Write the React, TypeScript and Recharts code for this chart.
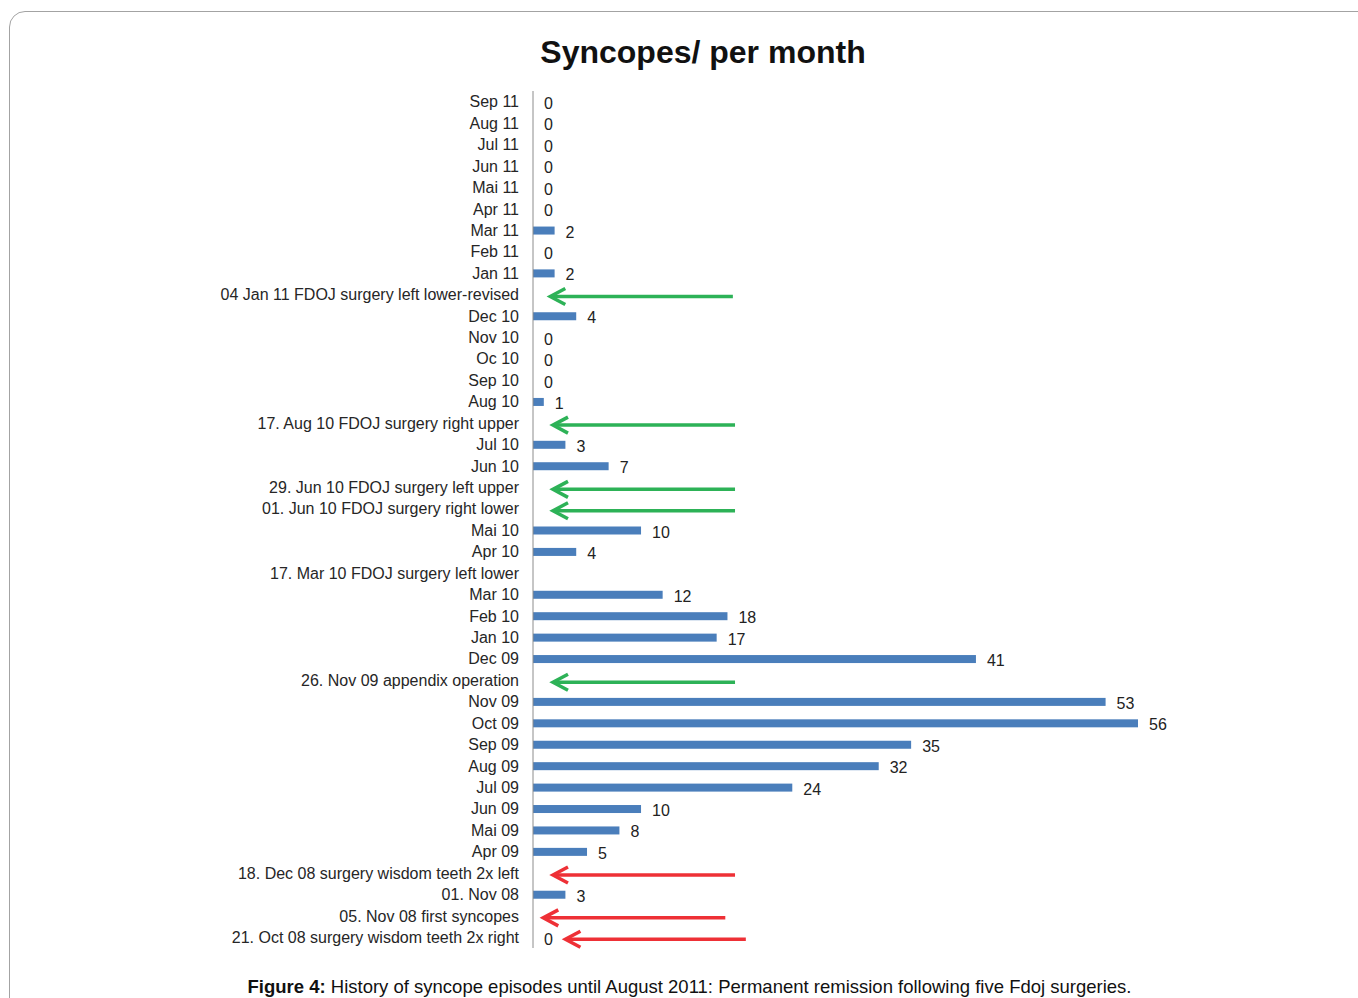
import { BarChart, Bar, XAxis, YAxis, LabelList, ReferenceLine } from 'recharts'

// rows top to bottom, months and event markers mixed as in the original
const rows = [
  'Sep 11', 'Aug 11', 'Jul 11', 'Jun 11', 'Mai 11', 'Apr 11', 'Mar 11', 'Feb 11', 'Jan 11',
  '04 Jan 11 FDOJ surgery left lower-revised',
  'Dec 10', 'Nov 10', 'Oc 10', 'Sep 10', 'Aug 10',
  '17. Aug 10 FDOJ surgery right upper',
  'Jul 10', 'Jun 10',
  '29. Jun 10 FDOJ surgery left upper',
  '01. Jun 10 FDOJ surgery right lower',
  'Mai 10', 'Apr 10',
  '17. Mar 10 FDOJ surgery left lower',
  'Mar 10', 'Feb 10', 'Jan 10', 'Dec 09',
  '26. Nov 09 appendix operation',
  'Nov 09', 'Oct 09', 'Sep 09', 'Aug 09', 'Jul 09', 'Jun 09', 'Mai 09', 'Apr 09',
  '18. Dec 08 surgery wisdom teeth 2x left',
  '01. Nov 08',
  '05. Nov 08 first syncopes',
  '21. Oct 08 surgery wisdom teeth 2x right',
]

const syncopes: (number | null)[] = [
  0, 0, 0, 0, 0, 0, 2, 0, 2,
  null,
  4, 0, 0, 0, 1,
  null,
  3, 7,
  null,
  null,
  10, 4,
  null,
  12, 18, 17, 41,
  null,
  53, 56, 35, 32, 24, 10, 8, 5,
  null,
  3,
  null,
  0,
]

const arrowRows = [
  '04 Jan 11 FDOJ surgery left lower-revised',
  '17. Aug 10 FDOJ surgery right upper',
  '29. Jun 10 FDOJ surgery left upper',
  '01. Jun 10 FDOJ surgery right lower',
  '26. Nov 09 appendix operation',
  '18. Dec 08 surgery wisdom teeth 2x left',
  '05. Nov 08 first syncopes',
  '21. Oct 08 surgery wisdom teeth 2x right',
]
const arrowHeads = [1.6, 1.85, 1.85, 1.85, 1.85, 1.85, 0.95, 3.0]
const arrowTails = [18.5, 18.7, 18.7, 18.7, 18.7, 18.7, 17.8, 19.7]
const arrowColors = ['#2db257', '#2db257', '#2db257', '#2db257', '#2db257', '#ee3036', '#ee3036', '#ee3036']

const data = rows.map((name, i) => ({ name, value: syncopes[i] }))

const font = '"Liberation Sans", Arial, sans-serif'

const Arrow = (p: any) => {
  const hx = Math.min(p.x1, p.x2)
  const tx = Math.max(p.x1, p.x2)
  const y = p.y1 + 2
  return (
    <g>
      <line x1={hx + 1} y1={y} x2={tx} y2={y} stroke={p.stroke} strokeWidth={3.5} />
      <polyline
        points={`${hx + 15},${y - 8} ${hx},${y} ${hx + 15},${y + 8}`}
        fill="none"
        stroke={p.stroke}
        strokeWidth={3.5}
      />
    </g>
  )
}

// zero months get a 1px placeholder (minPointSize) so the "0" label is kept; don't paint it
const BarShape = (p: any) => {
  const v = p.payload ? p.payload.value : null
  if (!v) return <g />
  return <rect x={p.x} y={p.y} width={p.width} height={p.height} fill={p.fill} />
}

const ValueLabel = (p: any) => {
  if (p.value === null || p.value === undefined) return null
  const w = p.value ? p.width : 0
  return (
    <text
      x={p.x + w + 11}
      y={p.y + p.height / 2 + 7}
      fontSize={16}
      fontFamily={font}
      fill="#222"
    >
      {p.value}
    </text>
  )
}

export default function App() {
  return (
    <div style={{ position: 'absolute', left: 0, top: 0, width: 1358, height: 998, overflow: 'hidden', background: '#fff' }}>
      <div
        style={{
          position: 'absolute',
          left: 9,
          top: 11,
          width: 1500,
          height: 1200,
          border: '1px solid #a3a3a3',
          borderRadius: 16,
        }}
      />
      <div
        style={{
          position: 'absolute',
          top: 34,
          left: 0,
          width: 1406,
          textAlign: 'center',
          fontFamily: font,
          fontWeight: 'bold',
          fontSize: 32,
          color: '#111',
        }}
      >
        Syncopes/ per month
      </div>
      <div style={{ position: 'absolute', left: 0, top: 0 }}>
        <BarChart
          width={1358}
          height={998}
          data={data}
          layout="vertical"
          margin={{ top: 91, right: 220, bottom: 50, left: 0 }}
        >
          <XAxis type="number" domain={[0, 56]} hide />
          <YAxis
            type="category"
            dataKey="name"
            width={533}
            interval={0}
            tickLine={false}
            tickSize={6}
            tickMargin={8}
            axisLine={{ stroke: '#8c8c8c' }}
            tick={{ fontSize: 16, fill: '#262626', fontFamily: font }}
          />
          <Bar
            dataKey="value"
            fill="#4a7ebb"
            barSize={8}
            minPointSize={1}
            shape={BarShape}
            isAnimationActive={false}
          >
            <LabelList dataKey="value" content={ValueLabel} />
          </Bar>
          {arrowRows.map((r, i) => (
            <ReferenceLine
              key={r}
              segment={[
                { x: arrowHeads[i], y: r },
                { x: arrowTails[i], y: r },
              ]}
              stroke={arrowColors[i]}
              shape={Arrow}
            />
          ))}
        </BarChart>
      </div>
      <div
        style={{
          position: 'absolute',
          top: 976,
          left: 0,
          width: 1379,
          textAlign: 'center',
          fontFamily: font,
          fontSize: 18.5,
          color: '#111',
        }}
      >
        <b>Figure 4:</b> History of syncope episodes until August 2011: Permanent remission following five Fdoj surgeries.
      </div>
    </div>
  )
}
